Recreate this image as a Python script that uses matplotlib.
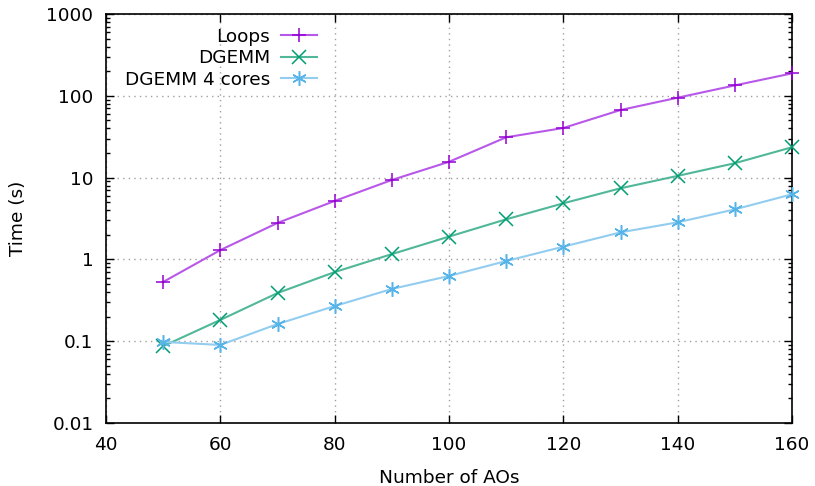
import matplotlib
matplotlib.use("Agg")
import matplotlib.pyplot as plt
from matplotlib.ticker import LogLocator, FixedLocator, NullFormatter

n_aos = [50, 60, 70, 80, 90, 100, 110, 120, 130, 140, 150, 160]
loops = [0.53, 1.30, 2.79, 5.18, 9.35, 15.6, 31.1, 40.4, 67.0, 94.8, 134.0, 188.0]
dgemm = [0.087, 0.182, 0.388, 0.70, 1.16, 1.90, 3.09, 4.85, 7.40, 10.5, 15.0, 23.5]
dgemm4 = [0.098, 0.090, 0.162, 0.269, 0.435, 0.627, 0.955, 1.43, 2.14, 2.84, 4.09, 6.25]
ytick_labels = ["0.01", "0.1", "1", "10", "100", "1000"]
xticks = [40, 60, 80, 100, 120, 140, 160]

plt.rcParams['font.family'] = ['DejaVu Sans']
FS = 13.3
fig = plt.figure(figsize=(8.15, 4.86), dpi=100)
ax = fig.add_axes([106/815, 1-423/486, (792-106)/815, (423-14)/486])

series = [
    ("Loops", loops, "+", "#b858e8", "#9400d3"),
    ("DGEMM", dgemm, "x", "#50b898", "#009e73"),
    ("DGEMM 4 cores", dgemm4, (6, 2, 0), "#92cdf0", "#56b4e9"),
]
for label, vals, mk, lc, mc in series:
    ax.plot(n_aos, vals, color=lc, lw=1.5, marker=mk, ms=10.5, mec=mc, mfc=mc,
            mew=1.1, label=label, clip_on=False, zorder=3)

ax.set_yscale("log")
ax.set_xlim(40, 160)
ax.set_ylim(0.01, 1000)
ax.set_xticks(xticks)
ax.set_xticklabels([str(x) for x in xticks])
yt = [0.01, 0.1, 1, 10, 100, 1000]
ax.yaxis.set_major_locator(FixedLocator(yt))
ax.set_yticklabels(ytick_labels)
ax.yaxis.set_minor_locator(LogLocator(base=10, subs=range(2, 10), numticks=20))
ax.yaxis.set_minor_formatter(NullFormatter())

ax.tick_params(axis='both', which='major', direction='in', length=6, width=1,
               top=True, right=True, labelsize=FS, colors='black')
ax.tick_params(axis='x', which='major', pad=9)
ax.tick_params(axis='y', which='major', pad=9)
ax.tick_params(axis='y', which='minor', direction='in', length=3, width=1,
               right=True, left=True)
ax.grid(True, which='major', color='#a0a0a0', linestyle=(0, (1, 3)), lw=1)
for s in ax.spines.values():
    s.set_linewidth(1.2)

ax.set_xlabel("Number of AOs", fontsize=FS, labelpad=11)
ax.set_ylabel("Time (s)", fontsize=FS)
ax.yaxis.set_label_coords(-(106-27)/686, 0.5)

leg = ax.legend(loc='upper right', bbox_to_anchor=(0.319, 0.985), frameon=False,
                markerfirst=False, fontsize=FS, handlelength=1.95,
                handletextpad=0.6, labelspacing=0.2, borderaxespad=0.0)
for t in leg.get_texts():
    t.set_ha('right')
leg._legend_box.align = "right"

fig.savefig("out.png", dpi=100)
